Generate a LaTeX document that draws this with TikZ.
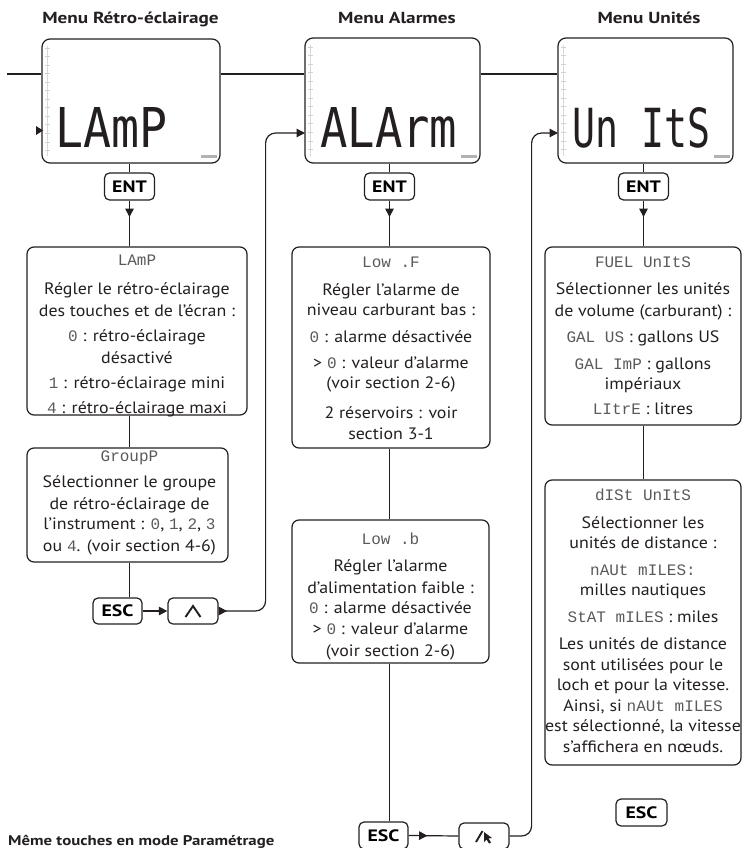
\documentclass[tikz,border=0pt]{standalone}
\usepackage{fontspec}
\setmainfont{PT Sans}[FakeStretch=1.085]
\newfontfamily\hdrf{PT Sans}[FakeStretch=1.2]
\newfontfamily\monof{Liberation Mono}
\newfontfamily\lcdf{DejaVu Sans Mono}
\usetikzlibrary{arrows.meta,decorations.markings,calc}
\definecolor{ink}{HTML}{231F20}
\definecolor{monogray}{HTML}{5A5A5A}
\newcommand\mono[1]{{\color{monogray}\monof\fontsize{16}{21}\selectfont #1}}
\newcommand\lcdscale[1]{%
  \draw[gray!30, line width=0.7pt] ([shift={(6,8)}]#1.north west) -- ([shift={(6,-8)}]#1.south west);
  \foreach \k in {0,...,12}{\draw[gray!35, line width=0.8pt] ([shift={(4,10+\k*8.5)}]#1.north west) -- ++(5,0);}
  \fill[gray!60] ([shift={(-20,-9)}]#1.south east) rectangle ([shift={(-4,-5.5)}]#1.south east);
}
\tikzset{
  line/.style={draw=ink, line width=1.2pt},
  lcd/.style={draw=ink, line width=1.2pt, rounded corners=8pt, inner sep=0pt},
  key/.style={draw=ink, line width=1.2pt, rounded corners=5pt, inner sep=0pt,
    minimum width=50pt, minimum height=27pt, font=\hdrf\fontsize{16.5}{16}\selectfont\bfseries},
  infobox/.style={draw=ink, line width=1.2pt, rounded corners=7pt, inner sep=0pt},
  txt/.style={align=center, inner sep=0pt, anchor=north, text=ink, font=\fontsize{16.5}{21}\selectfont},
  hdr/.style={anchor=base, inner sep=0pt, text=ink, font=\hdrf\fontsize{16}{18}\selectfont\bfseries},
  lcdtext/.style={anchor=south west, inner sep=0pt, text=ink},
  tip/.style={-{Triangle[length=8.5pt,width=8.5pt]}},
  midtip/.style={postaction=decorate, decoration={markings,
    mark=at position #1 with {\arrow{Triangle[length=8.5pt,width=8.5pt]}}}},
}
\begin{document}
\begin{tikzpicture}[x=1pt,y=-1pt]
\useasboundingbox (0,0) rectangle (743,848);
% headers
\node[hdr] (h1) at (130.5,24) {Menu Rétro-éclairage};
\node[hdr] (h2) at (397,24) {Menu Alarmes};
\node[hdr] (h3) at (649,24) {Menu Unités};
% screens
\node[lcd, minimum width=178pt, minimum height=124pt] (scr1) at (131,101) {};
\node[lcd, minimum width=175pt, minimum height=125pt] (scr2) at (392.5,100.5) {};
\node[lcd, minimum width=175pt, minimum height=125pt] (scr3) at (645.5,100.5) {};
\lcdscale{scr1}\lcdscale{scr2}\lcdscale{scr3}
\node[lcdtext] (lcd1) at (55,148) {\resizebox{112pt}{40pt}{\lcdf LAmP}};
\node[lcdtext] (lcd2) at (320,148) {\resizebox{137pt}{40pt}{\lcdf ALArm}};
\node[lcdtext] (lcd3) at (572,148) {\resizebox{138pt}{40pt}{\lcdf Un ItS}};
% top line
\coordinate (topy) at (0,74);
\draw[line] (7,74) -- (scr1.west |- topy);
\draw[line] (scr1.east |- topy) -- (scr2.west |- topy);
\draw[line] (scr2.east |- topy) -- (scr3.west |- topy);
% small arrow into screen 1
\fill[ink] (36,126) -- (43,130.5) -- (36,135) -- cycle;
% keys
\node[key] (ent1) at (129.5,186.5) {ENT};
\node[key] (ent2) at (389.5,186.5) {ENT};
\node[key] (ent3) at (643.5,186.5) {ENT};
\node[key, minimum width=49pt, minimum height=26pt] (esc1) at (117.5,611) {ESC};
\node[key, minimum width=50pt, minimum height=26pt] (caret1) at (193,611) {};
\node[key, minimum width=49pt] (esc2) at (383.5,835.5) {ESC};
\node[key, minimum width=50pt, minimum height=26pt] (ptr) at (484,836) {};
\node[key, minimum width=51pt] (esc3) at (641.5,812.5) {ESC};
% caret icon
\draw[ink, line width=1.9pt, line join=miter] ([shift={(-7.5,6)}]caret1.center) -- ([shift={(0,-5)}]caret1.center) -- ([shift={(7.5,6)}]caret1.center);
% pointer icon
\draw[ink, line width=1.9pt] ([shift={(-8,6)}]ptr.center) -- ([shift={(-1.5,-5)}]ptr.center);
\fill[ink] ([shift={(0,-4)}]ptr.center) -- ([shift={(8,2)}]ptr.center) -- ([shift={(4.5,2.5)}]ptr.center)
  -- ([shift={(7,6.5)}]ptr.center) -- ([shift={(5,7.5)}]ptr.center) -- ([shift={(2.5,3.5)}]ptr.center)
  -- ([shift={(0,6)}]ptr.center) -- cycle;
% info boxes
\node[infobox, minimum width=220pt, minimum height=168pt] (box1) at (137,331) {};
\node[infobox, minimum width=201pt, minimum height=114pt] (grp) at (127.5,505) {};
\node[infobox, minimum width=198pt, minimum height=201pt] (box2) at (391,347.5) {};
\node[infobox, minimum width=197pt, minimum height=143pt] (box3) at (390.5,591.5) {};
\node[infobox, minimum width=196pt, minimum height=178pt] (box4) at (643,336) {};
\node[infobox, minimum width=196pt, minimum height=285pt] (box5) at (643,622.5) {};
% texts
\node[txt] (t1) at (137,255) {\mono{LAmP}\\[8pt]
  Régler le rétro-éclairage\\[1pt]
  des touches et de l’écran :\\[4pt]
  \mono{0} : rétro-éclairage\\[1pt]
  désactivé\\[4pt]
  \mono{1} : rétro-éclairage mini\\[4pt]
  \mono{4} : rétro-éclairage maxi};
\node[txt] (tg) at (129.5,451) {\mono{GroupP}\\[5pt]
  Sélectionner le groupe\\[1pt]
  de rétro-éclairage de\\[-1pt]
  l’instrument : \mono{0}, \mono{1}, \mono{2}, \mono{3}\\[1pt]
  ou \mono{4}. (voir section 4-6)};
\node[txt] (t2) at (391,257) {\mono{Low .F}\\[7pt]
  Régler l’alarme de\\[-1pt]
  niveau carburant bas :\\[6pt]
  \mono{0} : alarme désactivée\\[5pt]
  > \mono{0} : valeur d'alarme\\[-1pt]
  (voir section 2-6)\\[9pt]
  2 réservoirs : voir\\[0pt]
  section 3-1};
\node[txt] (t3) at (390.5,533) {\mono{Low .b}\\[6pt]
  Régler l’alarme\\[1pt]
  d’alimentation faible :\\[-1pt]
  \mono{0} : alarme désactivée\\[0pt]
  > \mono{0} : valeur d’alarme\\[1pt]
  (voir section 2-6)};
\node[txt] (t4) at (643,257) {\mono{FUEL UnItS}\\[6pt]
  Sélectionner les unités\\[1pt]
  de volume (carburant) :\\[5pt]
  \mono{GAL US} : gallons US\\[6pt]
  \mono{GAL ImP} : gallons\\[-1pt]
  impériaux\\[4pt]
  \mono{LItrE} : litres};
\node[txt] (t5) at (643,489) {\mono{dISt UnItS}\\[7pt]
  Sélectionner les\\[-1pt]
  unités de distance :\\[6pt]
  \mono{nAUt mILES:}\\[-1pt]
  milles nautiques\\[6pt]
  \mono{StAT mILES} : miles\\[6pt]
  Les unités de distance\\[-0.5pt]
  sont utilisées pour le\\[-0.5pt]
  loch et pour la vitesse.\\[-0.5pt]
  Ainsi, si \mono{nAUt mILES}\\[-0.5pt]
  est sélectionné, la vitesse\\[-0.5pt]
  s’affichera en nœuds.};
% column 1 connectors
\draw[line] (ent1.north) -- (ent1.north |- scr1.south);
\draw[line, midtip=0.36] (ent1.south) -- (box1.north -| ent1);
\draw[line] (box1.south -| ent1) -- (grp.north -| ent1);
\draw[line] (grp.south -| ent1) -- (esc1.north -| ent1);
\draw[line, tip] (esc1.east) -- (caret1.west);
\coordinate (in2) at (305,133);
\draw[line, rounded corners=10pt, {Triangle[length=8.5pt,width=8.5pt,reversed]}-{Triangle[length=8.5pt,width=8.5pt]}]
  (caret1.east) -- ++(47,0) |- (in2);
% column 2 connectors
\draw[line] (ent2.north) -- (ent2.north |- scr2.south);
\draw[line, midtip=0.36] (ent2.south) -- (box2.north -| ent2);
\draw[line] (box2.south -| ent2) -- (box3.north -| ent2);
\draw[line] (box3.south -| ent2) -- (esc2.north -| ent2);
\draw[line, midtip=0.38] (esc2.east) -- (ptr.west);
\coordinate (in3) at (558,133);
\draw[line, rounded corners=10pt, tip] (ptr.east) -- ++(22,0) |- (in3);
% column 3 connectors
\draw[line] (ent3.north) -- (ent3.north |- scr3.south);
\draw[line, midtip=0.36] (ent3.south) -- (box4.north -| ent3);
\draw[line] (box4.south -| ent3) -- (box5.north -| ent3);
% bottom note
\node[anchor=base west, inner sep=0pt, text=ink, font=\hdrf\fontsize{14}{15}\selectfont\bfseries] (note) at (8,845) {Même touches en mode Paramétrage};
\end{tikzpicture}
\end{document}
